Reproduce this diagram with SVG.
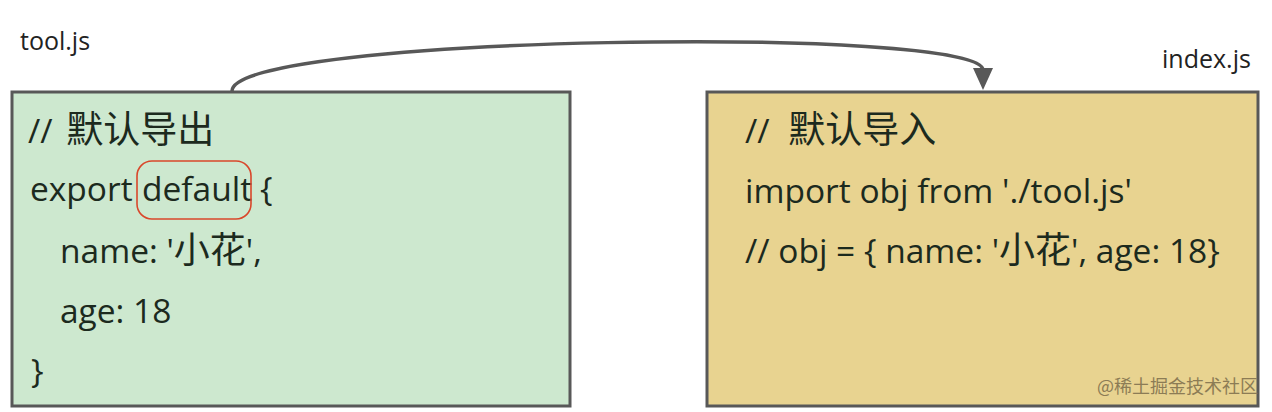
<svg xmlns="http://www.w3.org/2000/svg" width="1272" height="412" viewBox="0 0 1272 412">
<defs>
<style>
.t{font-family:"Open Sans","Noto Sans CJK SC",sans-serif;font-size:33.5px;fill:#1c2a1e}
.cj{font-family:"Noto Sans CJK SC",sans-serif;font-size:36px}
.cm{font-family:"Noto Sans CJK SC",sans-serif;font-size:37px}
.lbl{font-family:"Open Sans","Noto Sans CJK SC",sans-serif;font-size:25px;fill:#222}
.box{stroke:#585858;stroke-width:3}
.wm{font-family:"Noto Sans CJK SC",sans-serif;font-size:18px;fill:#8c7c55}
</style>
</defs>
<rect width="1272" height="412" fill="#fff"/>
<g id="connectors">
<path d="M232,91 C232,35 983,25 983,70" fill="none" stroke="#585858" stroke-width="3.5"/>
<path d="M973,68 L993,68 L983,90 Z" fill="#585858"/>
</g>
<g id="tool">
<text class="lbl" x="20" y="50">tool.js</text>
<rect class="box" x="12" y="92" width="558" height="314" fill="#cde8cf"/>
<text class="t" x="28" y="143">// <tspan class="cm" dx="5">默认导出</tspan></text>
<text class="t" x="30" y="201">export</text>
<text class="t" x="142" y="201">default</text>
<text class="t" x="260" y="201">{</text>
<rect x="137" y="161" width="114" height="58" rx="15" fill="none" stroke="#d9472b" stroke-width="1.6"/>
<text class="t" x="60" y="263">name: '<tspan class="cj">小花</tspan>',</text>
<text class="t" x="60" y="323">age: 18</text>
<text class="t" x="31" y="383">}</text>
</g>
<g id="index">
<text class="lbl" x="1162" y="68">index.js</text>
<rect class="box" x="707" y="92" width="551" height="314" fill="#e8d390"/>
<text class="t" x="745" y="143">//  <tspan class="cm" dx="10">默认导入</tspan></text>
<text class="t" x="745" y="203">import obj from './tool.js'</text>
<text class="t" x="745" y="263">// obj = { name: '<tspan class="cj">小花</tspan>', age: 18}</text>
<text class="wm" x="1097" y="393">@稀土掘金技术社区</text>
</g>
</svg>
